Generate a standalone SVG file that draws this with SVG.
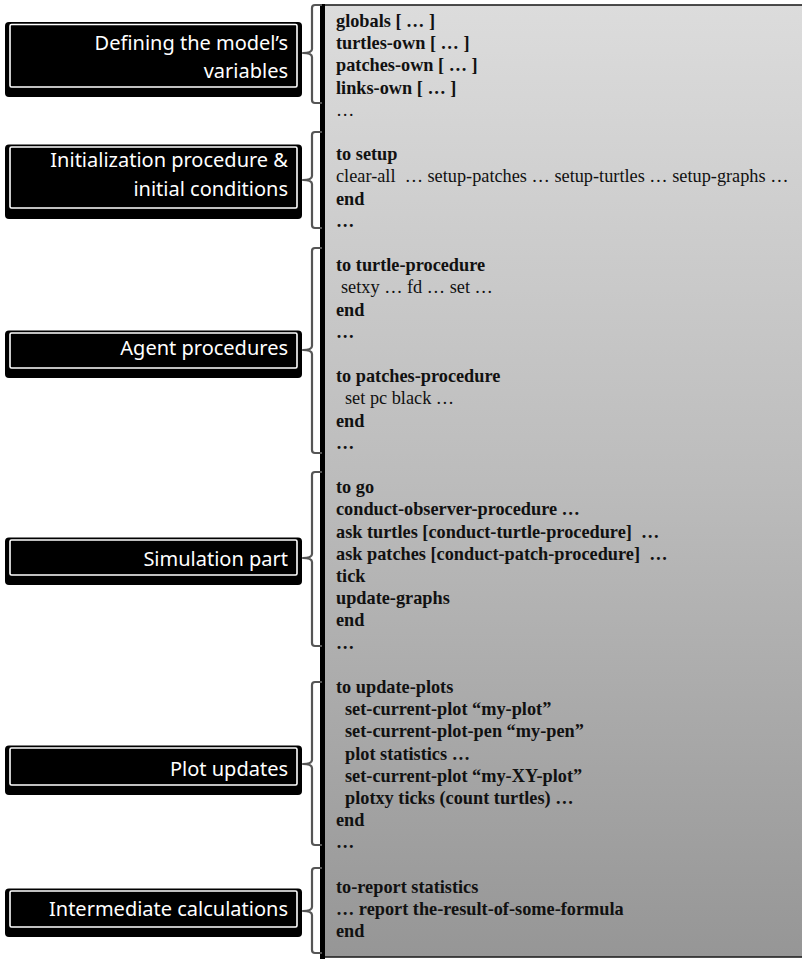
<svg xmlns="http://www.w3.org/2000/svg" width="802" height="960" viewBox="0 0 802 960">
<defs>
<linearGradient id="panelGrad" x1="0" y1="0" x2="0" y2="1">
<stop offset="0" stop-color="#dcdcdc"/>
<stop offset="0.5" stop-color="#bcbcbc"/>
<stop offset="1" stop-color="#969696"/>
</linearGradient>
<style>
.outer{fill:#000}
.inner{fill:#000;stroke:#fff;stroke-width:1.6}
.lbl{font-family:"Noto Sans","Open Sans",sans-serif;font-size:20px;fill:#fff;text-anchor:end}
.code{font-family:"Liberation Serif","Times New Roman",serif;font-size:18.3px;fill:#111}
.b{font-weight:bold}
.brace{fill:none;stroke:#555;stroke-width:2.2;stroke-linejoin:round}
</style>
</defs>
<rect width="802" height="960" fill="#fff"/>

<g id="code-panel">
<rect x="322" y="5" width="484" height="952" fill="url(#panelGrad)" stroke="#222" stroke-width="1.6"/>
<rect x="320" y="4" width="5" height="955" fill="#000"/>
<g class="code">
<text class="b" x="336" y="27">globals [ … ]</text>
<text class="b" x="336" y="49.2">turtles-own [ … ]</text>
<text class="b" x="336" y="71.4">patches-own [ … ]</text>
<text class="b" x="336" y="93.6">links-own [ … ]</text>
<text x="336" y="115.8">…</text>
<text class="b" x="336" y="160.2">to setup</text>
<text x="336" y="182.4">clear-all&#160; … setup-patches … setup-turtles … setup-graphs …</text>
<text class="b" x="336" y="204.6">end</text>
<text class="b" x="336" y="226.8">…</text>
<text class="b" x="336" y="271.2">to turtle-procedure</text>
<text x="341" y="293.4">setxy … fd … set …</text>
<text class="b" x="336" y="315.6">end</text>
<text class="b" x="336" y="337.8">…</text>
<text class="b" x="336" y="382.2">to patches-procedure</text>
<text x="345" y="404.4">set pc black …</text>
<text class="b" x="336" y="426.6">end</text>
<text class="b" x="336" y="448.8">…</text>
<text class="b" x="336" y="493.2">to go</text>
<text class="b" x="336" y="515.4">conduct-observer-procedure …</text>
<text class="b" x="336" y="537.6">ask turtles [conduct-turtle-procedure]&#160; …</text>
<text class="b" x="336" y="559.8">ask patches [conduct-patch-procedure]&#160; …</text>
<text class="b" x="336" y="582">tick</text>
<text class="b" x="336" y="604.2">update-graphs</text>
<text class="b" x="336" y="626.4">end</text>
<text class="b" x="336" y="648.6">…</text>
<text class="b" x="336" y="693">to update-plots</text>
<text class="b" x="345" y="715.2">set-current-plot “my-plot”</text>
<text class="b" x="345" y="737.4">set-current-plot-pen “my-pen”</text>
<text class="b" x="345" y="759.6">plot statistics …</text>
<text class="b" x="345" y="781.8">set-current-plot “my-XY-plot”</text>
<text class="b" x="345" y="804">plotxy ticks (count turtles) …</text>
<text class="b" x="336" y="826.2">end</text>
<text class="b" x="336" y="848.4">…</text>
<text class="b" x="336" y="892.8">to-report statistics</text>
<text class="b" x="336" y="915">… report the-result-of-some-formula</text>
<text class="b" x="336" y="937.2">end</text>
</g>
</g>

<g id="label-variables">
<rect class="outer" x="5" y="22" width="297" height="75" rx="4"/>
<rect class="inner" x="10" y="24.5" width="287" height="62.5" rx="1.5"/>
<text class="lbl" x="288" y="50">Defining the model’s</text>
<text class="lbl" x="288" y="78">variables</text>
</g>
<g id="label-initialization">
<rect class="outer" x="5" y="144.5" width="297" height="74.5" rx="4"/>
<rect class="inner" x="10" y="147" width="287" height="61" rx="1.5"/>
<text class="lbl" x="288" y="167">Initialization procedure &amp;</text>
<text class="lbl" x="288" y="196">initial conditions</text>
</g>
<g id="label-agent">
<rect class="outer" x="5" y="330.5" width="297" height="47.5" rx="4"/>
<rect class="inner" x="10" y="333" width="287" height="35" rx="1.5"/>
<text class="lbl" x="288" y="355">Agent procedures</text>
</g>
<g id="label-simulation">
<rect class="outer" x="5" y="537.5" width="297" height="47.5" rx="4"/>
<rect class="inner" x="10" y="540" width="287" height="35" rx="1.5"/>
<text class="lbl" x="288" y="566">Simulation part</text>
</g>
<g id="label-plot">
<rect class="outer" x="5" y="745.5" width="297" height="49.5" rx="4"/>
<rect class="inner" x="10" y="748" width="287" height="37" rx="1.5"/>
<text class="lbl" x="288" y="776">Plot updates</text>
</g>
<g id="label-intermediate">
<rect class="outer" x="5" y="888.5" width="297" height="48.5" rx="4"/>
<rect class="inner" x="10" y="891" width="287" height="36" rx="1.5"/>
<text class="lbl" x="288" y="916">Intermediate calculations</text>
</g>

<g id="connectors">
<path class="brace" d="M322 5 H315 Q312 5 312 8 V49 Q312 53 303 53 Q312 53 312 57 V100 Q312 103 315 103 H322"/>
<path class="brace" d="M322 132 H315 Q312 132 312 135 V176 Q312 180 303 180 Q312 180 312 184 V225 Q312 228 315 228 H322"/>
<path class="brace" d="M322 248 H315 Q312 248 312 251 V346 Q312 350 303 350 Q312 350 312 354 V450 Q312 453 315 453 H322"/>
<path class="brace" d="M322 472 H315 Q312 472 312 475 V554 Q312 558 303 558 Q312 558 312 562 V643 Q312 646 315 646 H322"/>
<path class="brace" d="M322 682 H315 Q312 682 312 685 V760 Q312 764 303 764 Q312 764 312 768 V842 Q312 845 315 845 H322"/>
<path class="brace" d="M322 868 H315 Q312 868 312 871 V907 Q312 911 303 911 Q312 911 312 915 V950 Q312 953 315 953 H322"/>
</g>
</svg>
